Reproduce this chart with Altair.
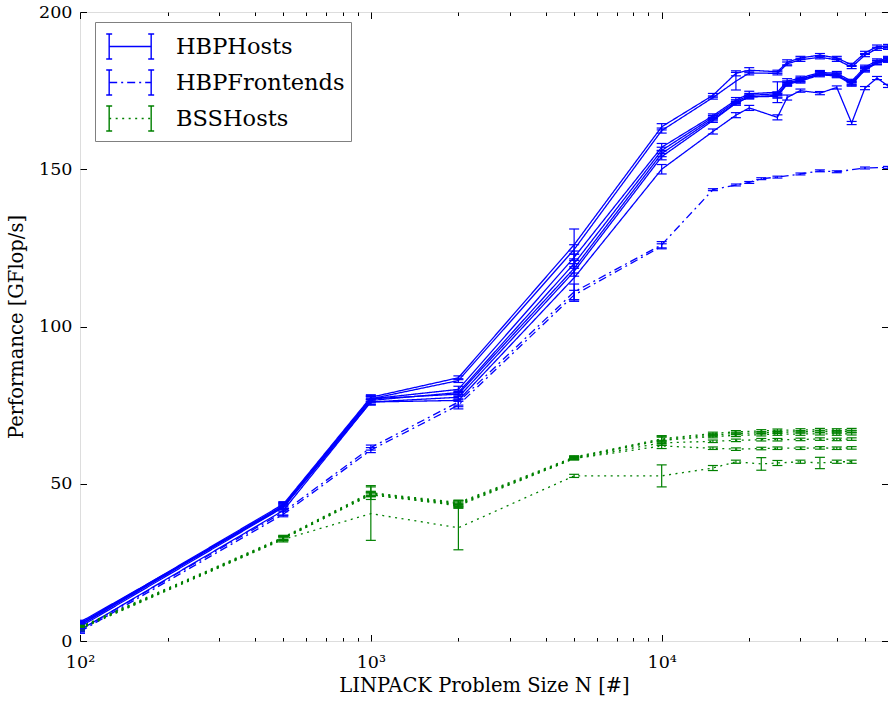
import altair as alt
import pandas as pd

# ---------------- data ----------------
GROUPS = ["HBPHosts", "HBPFrontends", "BSSHosts"]

X_HBP = [100, 500, 1000, 2000, 5000, 10000, 15000, 18000, 20000, 25000, 27000,
         30000, 35000, 40000, 45000, 50000, 55000, 60000]
H1 = [5.5, 43.5, 77.5, 83.7, 126.0, 163.5, 173.5, 180.5, 181.5, 181.0, 184.0, 185.4, 186.3, 185.4, 183.2, 187.0, 189.0, 189.2]
H2 = [5.0, 43.0, 77.0, 82.8, 124.5, 162.3, 172.8, 178.0, 180.6, 180.5, 183.5, 184.8, 185.6, 184.8, 182.5, 186.3, 188.3, 188.6]
H3 = [5.0, 43.0, 77.0, 80.0, 122.0, 157.0, 167.0, 172.0, 174.0, 174.5, 178.0, 179.0, 180.8, 180.5, 178.0, 182.5, 184.5, 185.3]
H4 = [4.5, 42.5, 76.5, 79.0, 120.0, 156.0, 166.5, 171.5, 173.5, 174.0, 177.5, 178.5, 180.5, 180.0, 177.5, 182.0, 184.0, 185.0]
H5 = [5.5, 43.0, 77.0, 78.5, 118.5, 155.0, 166.0, 171.0, 173.0, 173.5, 177.0, 178.0, 180.0, 179.7, 177.0, 181.5, 183.8, 184.6]
H6 = [6.0, 42.5, 76.0, 77.5, 117.5, 154.0, 165.5, 171.0, 173.0, 173.2, 177.2, 178.3, 180.3, 180.0, 177.3, 181.8, 184.0, 184.8]
H7 = [3.5, 41.5, 76.0, 76.5, 115.5, 150.0, 162.0, 167.2, 169.5, 166.5, 172.8, 175.0, 174.2, 176.0, 164.7, 175.8, 179.0, 176.5]
H1_ERR = [0.8, 0.8, 0.8, 0.6, 5.0, 1.0, 0.6, 0.8, 0.8, 0.5, 0.8, 0.5, 0.5, 0.5, 0.5, 0.5, 0.5, 0.5]
H2_ERR = [0.5, 0.8, 0.8, 0.6, 1.5, 0.8, 0.5, 2.8, 0.6, 0.5, 0.6, 0.5, 0.5, 0.5, 0.5, 0.5, 0.5, 0.5]
H3_ERR = [0.8, 1.0, 1.0, 1.0, 2.0, 1.2, 0.6, 0.8, 0.8, 3.3, 0.8, 0.6, 0.6, 0.6, 0.6, 0.6, 0.6, 0.6]
H4_ERR = [0.6, 0.8, 0.8, 0.8, 1.5, 1.0, 0.6, 0.6, 0.6, 0.6, 0.6, 0.6, 0.6, 0.6, 0.6, 0.6, 0.6, 0.6]
H5_ERR = [0.6, 0.8, 0.8, 0.8, 1.5, 1.0, 0.6, 0.6, 0.6, 0.6, 0.6, 0.6, 0.6, 0.6, 0.6, 0.6, 0.6, 0.6]
H6_ERR = [0.6, 0.8, 0.8, 0.8, 1.5, 1.0, 0.6, 0.6, 0.6, 0.6, 0.6, 0.6, 0.6, 0.6, 0.6, 0.6, 0.6, 0.6]
H7_ERR = [1.0, 1.5, 1.0, 2.0, 7.5, 1.5, 0.8, 0.8, 0.8, 0.8, 0.8, 0.5, 0.5, 0.5, 0.5, 0.5, 0.5, 0.5]

X_FE1 = [100, 500, 1000, 2000, 5000, 10000, 15000, 18000, 20000, 22000, 25000,
         30000, 35000, 40000, 50000, 60000]
F1 = [3.5, 41.0, 61.5, 76.0, 111.0, 126.0, 143.5, 145.0, 145.8, 147.0, 147.5, 148.5, 149.5, 149.2, 150.4, 150.6]
F1_ERR = [0.5, 1.0, 0.8, 1.0, 2.5, 1.0, 0.3, 0.3, 0.3, 0.3, 0.3, 0.3, 0.3, 0.3, 0.3, 0.3]
X_FE2 = [100, 500, 1000, 2000, 5000, 10000]
F2 = [3.0, 40.3, 60.7, 75.0, 110.0, 125.5]
F2_ERR = [0.5, 0.8, 0.8, 1.2, 1.5, 0.8]

X_BSS = [100, 500, 1000, 2000, 5000, 10000, 15000, 18000, 22000, 25000, 30000,
         35000, 40000, 45000]
G1 = [4.5, 33.0, 47.2, 44.0, 58.5, 64.3, 66.0, 66.5, 66.8, 67.0, 67.1, 67.2, 67.1, 67.2]
G2 = [4.3, 32.8, 47.0, 43.7, 58.3, 64.0, 65.5, 66.0, 66.2, 66.4, 66.5, 66.6, 66.5, 66.6]
G3 = [4.2, 32.7, 46.8, 43.5, 58.2, 63.8, 65.0, 65.4, 65.6, 65.8, 65.8, 65.9, 65.8, 65.9]
G4 = [4.0, 32.5, 46.5, 43.3, 58.0, 63.0, 63.5, 63.8, 64.0, 64.0, 64.1, 64.2, 64.1, 64.2]
G5 = [4.0, 32.5, 46.5, 43.0, 58.0, 62.0, 61.3, 61.0, 61.2, 61.3, 61.3, 61.4, 61.3, 61.4]
G6 = [3.8, 32.3, 40.5, 36.0, 52.5, 52.5, 55.0, 57.0, 56.3, 56.6, 57.0, 56.6, 57.0, 57.0]
G1_ERR = [0.5, 0.6, 2.2, 0.6, 0.4, 0.8, 0.4, 0.4, 0.4, 0.4, 0.4, 0.4, 0.4, 0.4]
G2_ERR = [0.5, 0.6, 0.6, 0.8, 0.4, 0.8, 0.4, 0.4, 0.4, 0.4, 0.4, 0.4, 0.4, 0.4]
G3_ERR = [0.5, 0.6, 0.6, 1.3, 0.4, 1.5, 0.4, 0.4, 0.4, 0.4, 0.4, 0.4, 0.4, 0.4]
G4_ERR = [0.5, 0.6, 0.6, 0.6, 0.4, 0.8, 0.4, 0.4, 0.4, 0.4, 0.4, 0.4, 0.4, 0.4]
G5_ERR = [0.5, 0.6, 0.6, 0.6, 0.4, 0.8, 0.4, 0.4, 0.4, 0.4, 0.4, 0.4, 0.4, 0.4]
G6_ERR = [0.5, 0.8, 8.5, 7.0, 0.5, 3.5, 0.8, 0.5, 2.0, 0.8, 0.5, 1.8, 0.5, 0.5]

X_MAJOR = [100, 1000, 10000]
X_MINOR = [200, 300, 400, 500, 600, 700, 800, 900,
           2000, 3000, 4000, 5000, 6000, 7000, 8000, 9000,
           20000, 30000, 40000, 50000]
Y_TICKS = [0, 50, 100, 150, 200]

# ---------------- table ----------------
SERIES = [
    ("H1", "HBPHosts", X_HBP, H1, H1_ERR), ("H2", "HBPHosts", X_HBP, H2, H2_ERR),
    ("H3", "HBPHosts", X_HBP, H3, H3_ERR), ("H4", "HBPHosts", X_HBP, H4, H4_ERR),
    ("H5", "HBPHosts", X_HBP, H5, H5_ERR), ("H6", "HBPHosts", X_HBP, H6, H6_ERR),
    ("H7", "HBPHosts", X_HBP, H7, H7_ERR),
    ("F1", "HBPFrontends", X_FE1, F1, F1_ERR), ("F2", "HBPFrontends", X_FE2, F2, F2_ERR),
    ("G1", "BSSHosts", X_BSS, G1, G1_ERR), ("G2", "BSSHosts", X_BSS, G2, G2_ERR),
    ("G3", "BSSHosts", X_BSS, G3, G3_ERR), ("G4", "BSSHosts", X_BSS, G4, G4_ERR),
    ("G5", "BSSHosts", X_BSS, G5, G5_ERR), ("G6", "BSSHosts", X_BSS, G6, G6_ERR),
]
rows = []
for sid, grp, xs, ys, es in SERIES:
    for xv, yv, ev in zip(xs, ys, es):
        rows.append({"series": sid, "group": grp, "capgroup": grp, "x": xv, "y": yv,
                     "lo": yv - ev, "hi": yv + ev})
df = pd.DataFrame(rows)
dummy = pd.DataFrame({"tx": [100], "ty": [0]})

# ---------------- style ----------------
FONT = "DejaVu Serif"
COLORS = ["#0000ff", "#0000ff", "#008000"]
DASHES = [[1, 0], [8, 4, 2, 4], [2, 4.5]]
TL, TLM = 6.5, 3.5
LAB = 17.5
TIT = 19.5
LEGFS = 22.5

xscale = alt.Scale(type="log", domain=[100, 60000], nice=False)
yscale = alt.Scale(domain=[0, 200], nice=False)
cscale = alt.Scale(domain=GROUPS, range=COLORS)
# reversed domain for the cap legend so that it is not merged with the line legend
fscale = alt.Scale(domain=GROUPS[::-1], range=COLORS[::-1])

# legend symbols (unit box -1..1, scaled by sqrt(size)/2)
L0, L1, HH, W, S = -0.59, 1.81, 0.714, 0.04, 0.17
EXT = HH + W


def rect(x0, y0, x1, y1):
    return f"M{x0},{y0}L{x1},{y0}L{x1},{y1}L{x0},{y1}Z"


def cap(cx):
    return (rect(cx - W, -HH, cx + W, HH) + rect(cx - S, -HH - W, cx + S, -HH + W)
            + rect(cx - S, HH - W, cx + S, HH + W))


# the line symbol carries two invisible slivers so that its bounds match the caps
LINE_PATH = (f"M{L0},{-EXT}L{L0},{-EXT + 0.001}M{L0},{EXT}L{L0},{EXT - 0.001}"
             f"M{L0},0L{L1},0")
CAP_PATH = cap(L0) + cap(L1)

common_leg = dict(title=None, orient="none", legendX=15, legendY=10,
                  symbolSize=1225, symbolStrokeWidth=1.3, labelFont=FONT,
                  labelFontSize=LEGFS, labelOffset=38, padding=6, rowPadding=1,
                  labelLimit=400, values=GROUPS)
leg_line = alt.Legend(symbolType=LINE_PATH, strokeColor="#808080",
                      labelColor="black", **common_leg)
leg_cap = alt.Legend(symbolType=CAP_PATH, labelExpr="''", symbolOpacity=1,
                     symbolStrokeColor="transparent", **common_leg)

base = alt.Chart(df)

lines = base.mark_line(strokeWidth=1.3, clip=True).encode(
    x=alt.X("x:Q", scale=xscale, axis=alt.Axis(
        orient="bottom", values=X_MAJOR,
        labelExpr="datum.value == 100 ? '10²' : datum.value == 1000 ? '10³' : '10⁴'",
        offset=-TL, tickSize=TL, tickWidth=1, tickColor="black", domain=False, grid=False,
        labelFlush=False, labelPadding=12, labelFont=FONT, labelFontSize=LAB,
        labelColor="black",
        title="LINPACK Problem Size N [#]", titleFont=FONT, titleFontSize=TIT,
        titleFontWeight="normal", titleColor="black", titlePadding=6)),
    y=alt.Y("y:Q", scale=yscale, axis=alt.Axis(
        orient="left", values=Y_TICKS, offset=-TL, tickSize=TL, tickWidth=1,
        tickColor="black", domain=False, grid=False, labelPadding=8, labelFlush=False,
        labelFont=FONT, labelFontSize=LAB, labelColor="black",
        title="Performance [GFlop/s]", titleFont=FONT, titleFontSize=TIT,
        titleFontWeight="normal", titleColor="black", titlePadding=12)),
    color=alt.Color("group:N", scale=cscale, legend=leg_line),
    strokeDash=alt.StrokeDash("group:N", scale=alt.Scale(domain=GROUPS, range=DASHES),
                              legend=leg_line),
    detail="series:N",
    order="x:Q",
)

errs = base.mark_rule(strokeWidth=1.2, clip=True).encode(
    x=alt.X("x:Q", scale=xscale, axis=None),
    y=alt.Y("lo:Q", scale=yscale, axis=None),
    y2="hi:Q",
    stroke=alt.Stroke("group:N", scale=cscale, legend=None),
)

caps_lo = base.mark_tick(orient="horizontal", size=10, thickness=1.2, opacity=1,
                         clip=True).encode(
    x=alt.X("x:Q", scale=xscale, axis=None),
    y=alt.Y("lo:Q", scale=yscale, axis=None),
    fill=alt.Fill("capgroup:N", scale=fscale, legend=leg_cap),
)
caps_hi = base.mark_tick(orient="horizontal", size=10, thickness=1.2, opacity=1,
                         clip=True).encode(
    x=alt.X("x:Q", scale=xscale, axis=None),
    y=alt.Y("hi:Q", scale=yscale, axis=None),
    fill=alt.Fill("capgroup:N", scale=fscale, legend=leg_cap),
)

dbase = alt.Chart(dummy).mark_point(opacity=0)
ax_major2 = dbase.encode(
    x=alt.X("tx:Q", scale=xscale, axis=alt.Axis(
        orient="top", values=X_MAJOR, offset=-TL, tickSize=TL, tickWidth=1,
        tickColor="black", labels=False, domain=False, grid=False, title=None)),
    y=alt.Y("ty:Q", scale=yscale, axis=alt.Axis(
        orient="right", values=Y_TICKS, offset=-TL, tickSize=TL, tickWidth=1,
        tickColor="black", labels=False, domain=False, grid=False, title=None)),
)
ax_minor_b = dbase.encode(
    x=alt.X("tx:Q", scale=xscale, axis=alt.Axis(
        orient="bottom", values=X_MINOR, offset=-TLM, tickSize=TLM, tickWidth=1,
        tickColor="black", labels=False, domain=False, grid=False, title=None)),
    y=alt.Y("ty:Q", scale=yscale, axis=None),
)
ax_minor_t = dbase.encode(
    x=alt.X("tx:Q", scale=xscale, axis=alt.Axis(
        orient="top", values=X_MINOR, offset=-TLM, tickSize=TLM, tickWidth=1,
        tickColor="black", labels=False, domain=False, grid=False, title=None)),
    y=alt.Y("ty:Q", scale=yscale, axis=None),
)

chart = alt.layer(
    lines, errs, caps_lo, caps_hi, ax_major2, ax_minor_b, ax_minor_t
).resolve_axis(x="independent", y="independent").properties(
    width=808, height=629,
    autosize=alt.AutoSizeParams(type="none"),
    padding={"left": 80, "top": 12, "right": 0, "bottom": 61},
).configure_view(stroke="black", strokeWidth=1.6).configure(background="white")

chart.save("out.html", embed_options={"renderer": "svg", "actions": False})
